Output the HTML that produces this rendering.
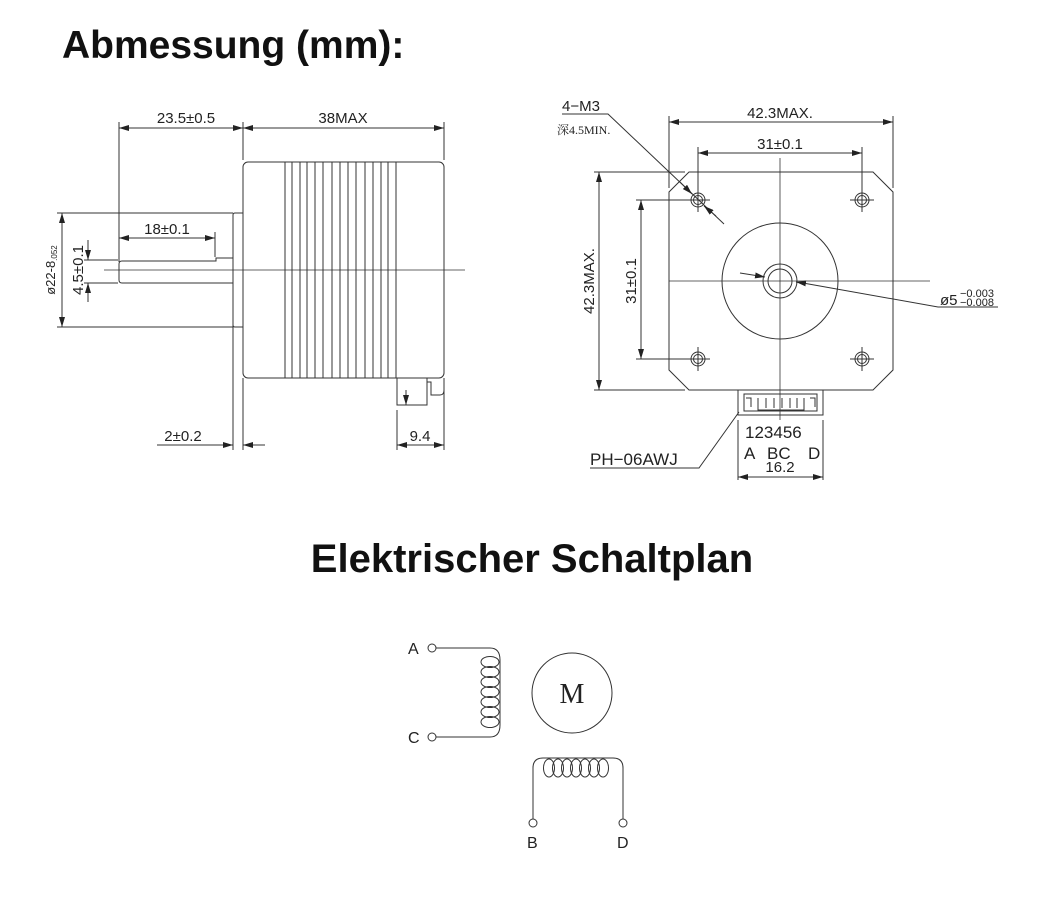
<!DOCTYPE html>
<html><head><meta charset="utf-8"><style>
html,body{margin:0;padding:0;background:#fff;}
svg{display:block;}
text{font-family:"Liberation Sans","Noto Sans CJK SC",sans-serif;fill:#222;}
</style></head><body>
<svg width="1060" height="897" viewBox="0 0 1060 897" xmlns="http://www.w3.org/2000/svg">
<defs>
<marker id="ar" viewBox="0 0 10 6" refX="10" refY="3" markerWidth="10" markerHeight="6" orient="auto-start-reverse" markerUnits="userSpaceOnUse">
<path d="M0,0 L10,3 L0,6 z" fill="#222"/></marker>
</defs>
<text x="62" y="58" font-size="39" font-weight="bold" style="fill:#111">Abmessung (mm):</text>
<text x="532" y="572" font-size="40" font-weight="bold" text-anchor="middle" style="fill:#111">Elektrischer Schaltplan</text>

<g stroke="#333" stroke-width="1" fill="none">
<line x1="119" y1="122" x2="119" y2="262"/>
<line x1="243" y1="122" x2="243" y2="160"/>
<line x1="444" y1="122" x2="444" y2="160"/>
<line x1="119" y1="128" x2="243" y2="128" marker-start="url(#ar)" marker-end="url(#ar)"/>
<line x1="243" y1="128" x2="444" y2="128" marker-start="url(#ar)" marker-end="url(#ar)"/>
<rect x="243" y="162" width="201" height="216" rx="5"/>
<g>
<line x1="285" y1="162" x2="285" y2="378"/><line x1="292" y1="162" x2="292" y2="378"/>
<line x1="300" y1="162" x2="300" y2="378"/><line x1="307" y1="162" x2="307" y2="378"/>
<line x1="315" y1="162" x2="315" y2="378"/><line x1="323" y1="162" x2="323" y2="378"/>
<line x1="332" y1="162" x2="332" y2="378"/><line x1="340" y1="162" x2="340" y2="378"/>
<line x1="348" y1="162" x2="348" y2="378"/><line x1="356" y1="162" x2="356" y2="378"/>
<line x1="365" y1="162" x2="365" y2="378"/><line x1="373" y1="162" x2="373" y2="378"/>
<line x1="381" y1="162" x2="381" y2="378"/><line x1="388" y1="162" x2="388" y2="378"/>
<line x1="396" y1="162" x2="396" y2="378"/>
</g>
<path d="M233,327 L233,215 Q233,213 235,213 L243,213 M243,327 L235,327 Q233,327 233,325"/>
<path d="M233,258 L216,258 L216,261 L122,261 Q119,261 119,264 L119,280 Q119,283 122,283 L233,283"/>
<line x1="104" y1="270" x2="465" y2="270" stroke-width="0.8"/>
<line x1="57" y1="213" x2="233" y2="213"/><line x1="57" y1="327" x2="233" y2="327"/>
<line x1="62" y1="213" x2="62" y2="327" marker-start="url(#ar)" marker-end="url(#ar)"/>
<line x1="84" y1="260" x2="118" y2="260"/><line x1="84" y1="283" x2="118" y2="283"/>
<line x1="88" y1="240" x2="88" y2="260" marker-end="url(#ar)"/>
<line x1="88" y1="302" x2="88" y2="283" marker-end="url(#ar)"/>
<line x1="215" y1="232" x2="215" y2="257"/>
<line x1="119" y1="238" x2="215" y2="238" marker-start="url(#ar)" marker-end="url(#ar)"/>
<line x1="233" y1="327" x2="233" y2="450"/><line x1="243" y1="378" x2="243" y2="450"/>
<line x1="157" y1="445" x2="233" y2="445" marker-end="url(#ar)"/>
<line x1="265" y1="445" x2="243" y2="445" marker-end="url(#ar)"/>
<path d="M397,378 L397,405 L427,405 L427,378 M427,382 L431,382 L431,395 L440,395 Q444,395 444,390 L444,378"/>
<line x1="406" y1="390" x2="406" y2="405" marker-end="url(#ar)"/>
<line x1="397" y1="410" x2="397" y2="450"/><line x1="444" y1="378" x2="444" y2="450"/>
<line x1="397" y1="445" x2="444" y2="445" marker-start="url(#ar)" marker-end="url(#ar)"/>

<path d="M689,172 L873,172 L893,192 L893,370 L873,390 L689,390 L669,370 L669,192 Z"/>
<line x1="669" y1="116" x2="669" y2="188"/><line x1="893" y1="116" x2="893" y2="188"/>
<line x1="669" y1="122" x2="893" y2="122" marker-start="url(#ar)" marker-end="url(#ar)"/>
<line x1="698" y1="147" x2="698" y2="194"/><line x1="862" y1="147" x2="862" y2="194"/>
<line x1="698" y1="153" x2="862" y2="153" marker-start="url(#ar)" marker-end="url(#ar)"/>
<line x1="594" y1="172" x2="685" y2="172"/><line x1="594" y1="390" x2="685" y2="390"/>
<line x1="599" y1="172" x2="599" y2="390" marker-start="url(#ar)" marker-end="url(#ar)"/>
<line x1="636" y1="200" x2="690" y2="200"/><line x1="636" y1="359" x2="690" y2="359"/>
<line x1="641" y1="200" x2="641" y2="359" marker-start="url(#ar)" marker-end="url(#ar)"/>
<line x1="780" y1="158" x2="780" y2="420" stroke-width="0.8"/>
<line x1="669" y1="281" x2="930" y2="281" stroke-width="0.8"/>
<circle cx="780" cy="281" r="58"/>
<circle cx="780" cy="281" r="17"/><circle cx="780" cy="281" r="12"/>
<g>
<circle cx="698" cy="200" r="7"/><circle cx="698" cy="200" r="4.5"/>
<circle cx="862" cy="200" r="7"/><circle cx="862" cy="200" r="4.5"/>
<circle cx="698" cy="359" r="7"/><circle cx="698" cy="359" r="4.5"/>
<circle cx="862" cy="359" r="7"/><circle cx="862" cy="359" r="4.5"/>
<line x1="686" y1="200" x2="710" y2="200"/><line x1="698" y1="188" x2="698" y2="212"/>
<line x1="850" y1="200" x2="874" y2="200"/><line x1="862" y1="188" x2="862" y2="212"/>
<line x1="686" y1="359" x2="710" y2="359"/><line x1="698" y1="347" x2="698" y2="371"/>
<line x1="850" y1="359" x2="874" y2="359"/><line x1="862" y1="347" x2="862" y2="371"/>
</g>
<path d="M562,114 L608,114 L724,224"/>
<line x1="680" y1="182" x2="692" y2="194" marker-end="url(#ar)"/>
<line x1="716" y1="216" x2="704" y2="206" marker-end="url(#ar)"/>
<path d="M998,307 L938,307 L803,283"/>
<line x1="740" y1="273" x2="765" y2="277" marker-end="url(#ar)"/>
<line x1="803" y1="283" x2="796" y2="282" marker-end="url(#ar)"/>
<rect x="738" y="390" width="85" height="25"/>
<path d="M744,394 L817,394 L817,411 L744,411 Z M746,398 L751,398 L751,407 M810,398 L815,398 L815,407 M758,398 L758,410 L804,410 L804,398 M766,398 L766,408 M774,398 L774,408 M782,398 L782,408 M790,398 L790,408 M797,398 L797,408"/>
<line x1="738" y1="420" x2="738" y2="480"/><line x1="823" y1="420" x2="823" y2="480"/>
<line x1="738" y1="477" x2="823" y2="477" marker-start="url(#ar)" marker-end="url(#ar)"/>
<path d="M590,468 L699,468 L739,412"/>

<circle cx="432" cy="648" r="4"/><circle cx="432" cy="737" r="4"/>
<path d="M436,648 L490,648 Q500,648 500,660 L500,725 Q500,737 490,737 L436,737"/>
<ellipse cx="490" cy="662" rx="9" ry="5.5"/><ellipse cx="490" cy="672" rx="9" ry="5.5"/>
<ellipse cx="490" cy="682" rx="9" ry="5.5"/><ellipse cx="490" cy="692" rx="9" ry="5.5"/>
<ellipse cx="490" cy="702" rx="9" ry="5.5"/><ellipse cx="490" cy="712" rx="9" ry="5.5"/>
<ellipse cx="490" cy="722" rx="9" ry="5.5"/>
<circle cx="572" cy="693" r="40"/>
<path d="M533,819 L533,768 Q533,758 543,758 L613,758 Q623,758 623,768 L623,819"/>
<ellipse cx="549" cy="768" rx="5.5" ry="9"/><ellipse cx="558" cy="768" rx="5.5" ry="9"/>
<ellipse cx="567" cy="768" rx="5.5" ry="9"/><ellipse cx="576" cy="768" rx="5.5" ry="9"/>
<ellipse cx="585" cy="768" rx="5.5" ry="9"/><ellipse cx="594" cy="768" rx="5.5" ry="9"/>
<ellipse cx="603" cy="768" rx="5.5" ry="9"/>
<circle cx="533" cy="823" r="4"/><circle cx="623" cy="823" r="4"/>
</g>

<g font-size="15">
<text x="186" y="123" text-anchor="middle">23.5±0.5</text>
<text x="343" y="123" text-anchor="middle">38MAX</text>
<text x="167" y="234" text-anchor="middle">18±0.1</text>
<text x="183" y="441" text-anchor="middle">2±0.2</text>
<text x="420" y="441" text-anchor="middle">9.4</text>
<text transform="translate(55,270) rotate(-90)" text-anchor="middle" font-size="13">ø22-8<tspan font-size="8" dy="2">.052</tspan></text>
<text transform="translate(83,270) rotate(-90)" text-anchor="middle">4.5±0.1</text>
<text x="780" y="118" text-anchor="middle">42.3MAX.</text>
<text x="780" y="149" text-anchor="middle">31±0.1</text>
<text transform="translate(594,281) rotate(-90)" text-anchor="middle">42.3MAX.</text>
<text transform="translate(636,281) rotate(-90)" text-anchor="middle">31±0.1</text>
<text x="562" y="111">4−M3</text>
<text x="557" y="134" font-size="12" style="font-family:'Liberation Serif','Noto Serif CJK SC',serif">深4.5MIN.</text>
<text x="940" y="305">ø5</text>
<text x="960" y="297" font-size="11">−0.003</text>
<text x="960" y="306" font-size="11">−0.008</text>
<text x="745" y="438" font-size="17">123456</text>
<text x="744" y="459" font-size="17">A</text>
<text x="767" y="459" font-size="17">BC</text>
<text x="808" y="459" font-size="17">D</text>
<text x="780" y="472" text-anchor="middle">16.2</text>
<text x="590" y="465" font-size="17">PH−06AWJ</text>
<text x="408" y="654" font-size="16">A</text>
<text x="408" y="743" font-size="16">C</text>
<text x="527" y="848" font-size="16">B</text>
<text x="617" y="848" font-size="16">D</text>
<text x="572" y="703" font-size="28" text-anchor="middle" style="font-family:'Liberation Serif',serif">M</text>
</g>
</svg>
</body></html>
